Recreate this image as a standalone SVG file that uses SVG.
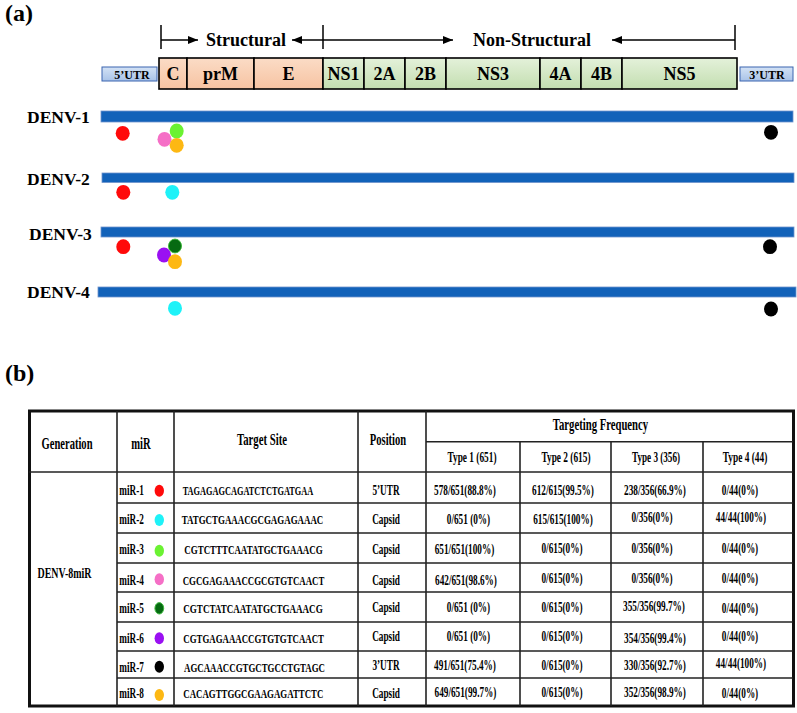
<svg xmlns="http://www.w3.org/2000/svg" width="797" height="713" viewBox="0 0 797 713">
<style>
text{font-family:"Liberation Serif","Times New Roman",serif;font-weight:bold;fill:#000}
.lbl{font-size:24px}
.arrtxt{font-size:18px;text-anchor:middle}
.gene{font-size:18px;text-anchor:middle}
.utr{font-size:12px;text-anchor:middle}
.denv{font-size:17.5px}
.st{fill:url(#gS);stroke:#000;stroke-width:1.6}
.ns{fill:url(#gN);stroke:#000;stroke-width:1.6}
.ut{fill:url(#gU);stroke:#3A64B0;stroke-width:1}
.bar{fill:#1262B9;stroke:#6F93CC;stroke-width:0.8}
.ln{stroke:#000;stroke-width:1.5;fill:none}
.tb{stroke:#222;stroke-width:1.6;fill:none}
.hd{font-size:16px;text-anchor:middle}
.ty{font-size:14px;text-anchor:middle}
.dt{font-size:14px;text-anchor:middle}
.mi{font-size:14px}
.seq{font-size:13px}
.r{fill:#FF0A0A}.c{fill:#1EF2F8}.g{fill:#6BF232}.p{fill:#F56FC6}.dg{fill:#066A12;stroke:#3DBA3D;stroke-width:1}.pu{fill:#9A10F2}.k{fill:#000}.o{fill:#FDB813}
</style>
<defs>
<linearGradient id="gS" x1="0" y1="0" x2="0" y2="1"><stop offset="0" stop-color="#FBDCC6"/><stop offset="1" stop-color="#F6C3A2"/></linearGradient>
<linearGradient id="gN" x1="0" y1="0" x2="0" y2="1"><stop offset="0" stop-color="#E4F1DA"/><stop offset="1" stop-color="#C3DEB0"/></linearGradient>
<linearGradient id="gU" x1="0" y1="0" x2="0" y2="1"><stop offset="0" stop-color="#D3E2F5"/><stop offset="1" stop-color="#A9C3E8"/></linearGradient>
<marker id="ah" viewBox="0 0 10 8" refX="10" refY="4" markerWidth="10" markerHeight="8" markerUnits="userSpaceOnUse" orient="auto"><path d="M0,0 L10,4 L0,8 z" fill="#000"/></marker>
</defs>

<text class="lbl" x="5" y="21">(a)</text>
<text class="lbl" x="5" y="381">(b)</text>

<g id="connectors">
<line class="ln" x1="161" y1="25" x2="161" y2="49"/>
<line class="ln" x1="323" y1="25" x2="323" y2="49"/>
<line class="ln" x1="735" y1="25" x2="735" y2="50"/>
<line class="ln" x1="161" y1="40" x2="198" y2="40" marker-end="url(#ah)"/>
<line class="ln" x1="323" y1="40" x2="292" y2="40" marker-end="url(#ah)"/>
<line class="ln" x1="323" y1="40" x2="453" y2="40" marker-end="url(#ah)"/>
<line class="ln" x1="735" y1="40" x2="612" y2="40" marker-end="url(#ah)"/>
</g>
<text class="arrtxt" x="246" y="46">Structural</text>
<text class="arrtxt" x="532" y="46">Non-Structural</text>

<g id="genome">
<g id="utr5"><rect class="ut" x="102" y="67" width="55" height="14"/><text class="utr" x="132" y="78.5">5’UTR</text></g>
<g id="C"><rect class="st" x="159" y="58" width="28" height="31"/><text class="gene" x="173" y="80">C</text></g>
<g id="prM"><rect class="st" x="187" y="58" width="67" height="31"/><text class="gene" x="220.5" y="80">prM</text></g>
<g id="E"><rect class="st" x="254" y="58" width="69" height="31"/><text class="gene" x="288.5" y="80">E</text></g>
<g id="NS1"><rect class="ns" x="323" y="58" width="41" height="31"/><text class="gene" x="343.5" y="80">NS1</text></g>
<g id="N2A"><rect class="ns" x="364" y="58" width="41" height="31"/><text class="gene" x="384.5" y="80">2A</text></g>
<g id="N2B"><rect class="ns" x="405" y="58" width="41" height="31"/><text class="gene" x="425.5" y="80">2B</text></g>
<g id="NS3"><rect class="ns" x="446" y="58" width="94" height="31"/><text class="gene" x="493" y="80">NS3</text></g>
<g id="N4A"><rect class="ns" x="540" y="58" width="41" height="31"/><text class="gene" x="560.5" y="80">4A</text></g>
<g id="N4B"><rect class="ns" x="581" y="58" width="41" height="31"/><text class="gene" x="601.5" y="80">4B</text></g>
<g id="NS5"><rect class="ns" x="622" y="58" width="115" height="31"/><text class="gene" x="679.5" y="80">NS5</text></g>
<g id="utr3"><rect class="ut" x="740" y="67" width="53" height="14"/><text class="utr" x="767" y="78.5">3’UTR</text></g>
</g>

<g id="denv1">
<text class="denv" x="27" y="123">DENV-1</text>
<rect class="bar" x="101" y="111" width="692" height="11"/>
<ellipse class="r" cx="122.7" cy="133.3" rx="7" ry="7.4"/>
<ellipse class="p" cx="164.5" cy="139.3" rx="7" ry="7.4"/>
<ellipse class="g" cx="176.7" cy="131" rx="7" ry="7.4"/>
<ellipse class="o" cx="176.7" cy="145.3" rx="7" ry="7.4"/>
<ellipse class="k" cx="771" cy="132.3" rx="7" ry="7.4"/>
</g>
<g id="denv2">
<text class="denv" x="27" y="184.5">DENV-2</text>
<rect class="bar" x="102" y="173" width="692" height="9.5"/>
<ellipse class="r" cx="123.3" cy="192.3" rx="7" ry="7.4"/>
<ellipse class="c" cx="172.3" cy="192.3" rx="7" ry="7.4"/>
</g>
<g id="denv3">
<text class="denv" x="29" y="240">DENV-3</text>
<rect class="bar" x="101" y="227" width="693" height="10"/>
<ellipse class="r" cx="123.3" cy="246.7" rx="7" ry="7.4"/>
<ellipse class="pu" cx="164" cy="255" rx="7" ry="7.4"/>
<ellipse class="dg" cx="175" cy="246" rx="6.5" ry="6.9"/>
<ellipse class="o" cx="175" cy="261.7" rx="7" ry="7.4"/>
<ellipse class="k" cx="770" cy="246.7" rx="7" ry="7.4"/>
</g>
<g id="denv4">
<text class="denv" x="27" y="298">DENV-4</text>
<rect class="bar" x="98" y="287" width="698" height="10"/>
<ellipse class="c" cx="175" cy="308.3" rx="7" ry="7.4"/>
<ellipse class="k" cx="771" cy="309" rx="7" ry="7.4"/>
</g>

<g id="table">
<g id="grid">
<rect x="29.5" y="411" width="764" height="295" fill="none" stroke="#111" stroke-width="3"/>
<line class="tb" x1="426" y1="441.7" x2="793" y2="441.7"/>
<line class="tb" x1="29" y1="472" x2="793" y2="472"/>
<line class="tb" x1="117" y1="503" x2="793" y2="503"/>
<line class="tb" x1="117" y1="533" x2="793" y2="533"/>
<line class="tb" x1="117" y1="563" x2="793" y2="563"/>
<line class="tb" x1="117" y1="592" x2="793" y2="592"/>
<line class="tb" x1="117" y1="622" x2="793" y2="622"/>
<line class="tb" x1="117" y1="651" x2="793" y2="651"/>
<line class="tb" x1="117" y1="678" x2="793" y2="678"/>
<line class="tb" x1="117" y1="411" x2="117" y2="706"/>
<line class="tb" x1="174" y1="411" x2="174" y2="706" stroke-width="2"/>
<line class="tb" x1="358" y1="411" x2="358" y2="706"/>
<line class="tb" x1="426" y1="411" x2="426" y2="706"/>
<line class="tb" x1="520" y1="441.7" x2="520" y2="706"/>
<line class="tb" x1="611" y1="441.7" x2="611" y2="706"/>
<line class="tb" x1="703" y1="441.7" x2="703" y2="706"/>
</g>
<g id="header">
<text class="hd" x="67" y="449" textLength="51" lengthAdjust="spacingAndGlyphs">Generation</text>
<text class="hd" x="141" y="449" textLength="19.4" lengthAdjust="spacingAndGlyphs">miR</text>
<text class="hd" x="262" y="445" textLength="50" lengthAdjust="spacingAndGlyphs">Target Site</text>
<text class="hd" x="388" y="445" textLength="36.4" lengthAdjust="spacingAndGlyphs">Position</text>
<text class="hd" x="600.5" y="430" textLength="95.3" lengthAdjust="spacingAndGlyphs">Targeting Frequency</text>
<text class="ty" x="472" y="462" textLength="49" lengthAdjust="spacingAndGlyphs">Type 1 (651)</text>
<text class="ty" x="566" y="462" textLength="49" lengthAdjust="spacingAndGlyphs">Type 2 (615)</text>
<text class="ty" x="656" y="462" textLength="48" lengthAdjust="spacingAndGlyphs">Type 3 (356)</text>
<text class="ty" x="745" y="462" textLength="44.5" lengthAdjust="spacingAndGlyphs">Type 4 (44)</text>
</g>
<text class="hd" x="64.5" y="578" textLength="54" lengthAdjust="spacingAndGlyphs" style="font-size:15px">DENV-8miR</text>

<g id="row1">
<text class="mi" x="119.3" y="495" textLength="24.5" lengthAdjust="spacingAndGlyphs">miR-1</text>
<ellipse class="r" cx="159.3" cy="490.7" rx="4.7" ry="6"/>
<text class="seq" x="182.7" y="495" textLength="130.6" lengthAdjust="spacingAndGlyphs">TAGAGAGCAGATCTCTGATGAA</text>
<text class="dt" x="386" y="495" textLength="27.2" lengthAdjust="spacingAndGlyphs">5’UTR</text>
<text class="dt" x="465" y="495" textLength="61.9" lengthAdjust="spacingAndGlyphs">578/651(88.8%)</text>
<text class="dt" x="563" y="495" textLength="61.9" lengthAdjust="spacingAndGlyphs">612/615(99.5%)</text>
<text class="dt" x="655" y="495" textLength="61.9" lengthAdjust="spacingAndGlyphs">238/356(66.9%)</text>
<text class="dt" x="740" y="495" textLength="36.4" lengthAdjust="spacingAndGlyphs">0/44(0%)</text>
</g>
<g id="row2">
<text class="mi" x="119.3" y="524" textLength="24.5" lengthAdjust="spacingAndGlyphs">miR-2</text>
<ellipse class="c" cx="159.3" cy="520" rx="4.7" ry="6"/>
<text class="seq" x="181.7" y="524" textLength="141.6" lengthAdjust="spacingAndGlyphs">TATGCTGAAACGCGAGAGAAAC</text>
<text class="dt" x="386" y="524" textLength="27.7" lengthAdjust="spacingAndGlyphs">Capsid</text>
<text class="dt" x="468.5" y="524" textLength="43.4" lengthAdjust="spacingAndGlyphs">0/651 (0%)</text>
<text class="dt" x="563" y="524" textLength="59.5" lengthAdjust="spacingAndGlyphs">615/615(100%)</text>
<text class="dt" x="652" y="522" textLength="41.1" lengthAdjust="spacingAndGlyphs">0/356(0%)</text>
<text class="dt" x="741" y="522" textLength="50.3" lengthAdjust="spacingAndGlyphs">44/44(100%)</text>
</g>
<g id="row3">
<text class="mi" x="119.3" y="554" textLength="24.5" lengthAdjust="spacingAndGlyphs">miR-3</text>
<ellipse class="g" cx="159.3" cy="550.7" rx="4.7" ry="6"/>
<text class="seq" x="184.3" y="554" textLength="138.4" lengthAdjust="spacingAndGlyphs">CGTCTTTCAATATGCTGAAACG</text>
<text class="dt" x="386" y="554" textLength="27.7" lengthAdjust="spacingAndGlyphs">Capsid</text>
<text class="dt" x="464.5" y="554" textLength="59.5" lengthAdjust="spacingAndGlyphs">651/651(100%)</text>
<text class="dt" x="562" y="553" textLength="41.1" lengthAdjust="spacingAndGlyphs">0/615(0%)</text>
<text class="dt" x="652" y="553" textLength="41.1" lengthAdjust="spacingAndGlyphs">0/356(0%)</text>
<text class="dt" x="740" y="553" textLength="36.4" lengthAdjust="spacingAndGlyphs">0/44(0%)</text>
</g>
<g id="row4">
<text class="mi" x="119.3" y="585" textLength="24.5" lengthAdjust="spacingAndGlyphs">miR-4</text>
<ellipse class="p" cx="159.3" cy="579.3" rx="4.7" ry="6"/>
<text class="seq" x="182.7" y="585" textLength="141.6" lengthAdjust="spacingAndGlyphs">CGCGAGAAACCGCGTGTCAACT</text>
<text class="dt" x="386" y="585" textLength="27.7" lengthAdjust="spacingAndGlyphs">Capsid</text>
<text class="dt" x="466" y="585" textLength="61.9" lengthAdjust="spacingAndGlyphs">642/651(98.6%)</text>
<text class="dt" x="562" y="583" textLength="41.1" lengthAdjust="spacingAndGlyphs">0/615(0%)</text>
<text class="dt" x="652" y="583" textLength="41.1" lengthAdjust="spacingAndGlyphs">0/356(0%)</text>
<text class="dt" x="740" y="583" textLength="36.4" lengthAdjust="spacingAndGlyphs">0/44(0%)</text>
</g>
<g id="row5">
<text class="mi" x="119.3" y="613" textLength="24.5" lengthAdjust="spacingAndGlyphs">miR-5</text>
<ellipse class="dg" cx="159.3" cy="608.3" rx="4.4" ry="5.7"/>
<text class="seq" x="183.3" y="613" textLength="139.4" lengthAdjust="spacingAndGlyphs">CGTCTATCAATATGCTGAAACG</text>
<text class="dt" x="386" y="612" textLength="27.7" lengthAdjust="spacingAndGlyphs">Capsid</text>
<text class="dt" x="468.5" y="612" textLength="43.4" lengthAdjust="spacingAndGlyphs">0/651 (0%)</text>
<text class="dt" x="562" y="612" textLength="41.1" lengthAdjust="spacingAndGlyphs">0/615(0%)</text>
<text class="dt" x="654" y="611" textLength="61.9" lengthAdjust="spacingAndGlyphs">355/356(99.7%)</text>
<text class="dt" x="740" y="613" textLength="36.4" lengthAdjust="spacingAndGlyphs">0/44(0%)</text>
</g>
<g id="row6">
<text class="mi" x="119.3" y="643" textLength="24.5" lengthAdjust="spacingAndGlyphs">miR-6</text>
<ellipse class="pu" cx="159.3" cy="638.3" rx="4.7" ry="6"/>
<text class="seq" x="183.3" y="643" textLength="140.7" lengthAdjust="spacingAndGlyphs">CGTGAGAAACCGTGTGTCAACT</text>
<text class="dt" x="386" y="641" textLength="27.7" lengthAdjust="spacingAndGlyphs">Capsid</text>
<text class="dt" x="468.5" y="641" textLength="43.4" lengthAdjust="spacingAndGlyphs">0/651 (0%)</text>
<text class="dt" x="562" y="641" textLength="41.1" lengthAdjust="spacingAndGlyphs">0/615(0%)</text>
<text class="dt" x="655" y="643" textLength="61.9" lengthAdjust="spacingAndGlyphs">354/356(99.4%)</text>
<text class="dt" x="740" y="641" textLength="36.4" lengthAdjust="spacingAndGlyphs">0/44(0%)</text>
</g>
<g id="row7">
<text class="mi" x="119.3" y="671.5" textLength="24.5" lengthAdjust="spacingAndGlyphs">miR-7</text>
<ellipse class="k" cx="159.3" cy="666.7" rx="4.7" ry="6"/>
<text class="seq" x="184" y="671.5" textLength="141" lengthAdjust="spacingAndGlyphs">AGCAAACCGTGCTGCCTGTAGC</text>
<text class="dt" x="386" y="670" textLength="27.2" lengthAdjust="spacingAndGlyphs">3’UTR</text>
<text class="dt" x="465" y="670" textLength="61.9" lengthAdjust="spacingAndGlyphs">491/651(75.4%)</text>
<text class="dt" x="562" y="670" textLength="41.1" lengthAdjust="spacingAndGlyphs">0/615(0%)</text>
<text class="dt" x="655" y="670" textLength="61.9" lengthAdjust="spacingAndGlyphs">330/356(92.7%)</text>
<text class="dt" x="741" y="668" textLength="50.3" lengthAdjust="spacingAndGlyphs">44/44(100%)</text>
</g>
<g id="row8">
<text class="mi" x="119.3" y="698" textLength="24.5" lengthAdjust="spacingAndGlyphs">miR-8</text>
<ellipse class="o" cx="159.3" cy="695" rx="4.7" ry="6"/>
<text class="seq" x="183.3" y="698" textLength="140" lengthAdjust="spacingAndGlyphs">CACAGTTGGCGAAGAGATTCTC</text>
<text class="dt" x="386" y="698" textLength="27.7" lengthAdjust="spacingAndGlyphs">Capsid</text>
<text class="dt" x="465.5" y="697" textLength="61.9" lengthAdjust="spacingAndGlyphs">649/651(99.7%)</text>
<text class="dt" x="562" y="697" textLength="41.1" lengthAdjust="spacingAndGlyphs">0/615(0%)</text>
<text class="dt" x="655" y="697" textLength="61.9" lengthAdjust="spacingAndGlyphs">352/356(98.9%)</text>
<text class="dt" x="740" y="698" textLength="36.4" lengthAdjust="spacingAndGlyphs">0/44(0%)</text>
</g>
</g>
</svg>
